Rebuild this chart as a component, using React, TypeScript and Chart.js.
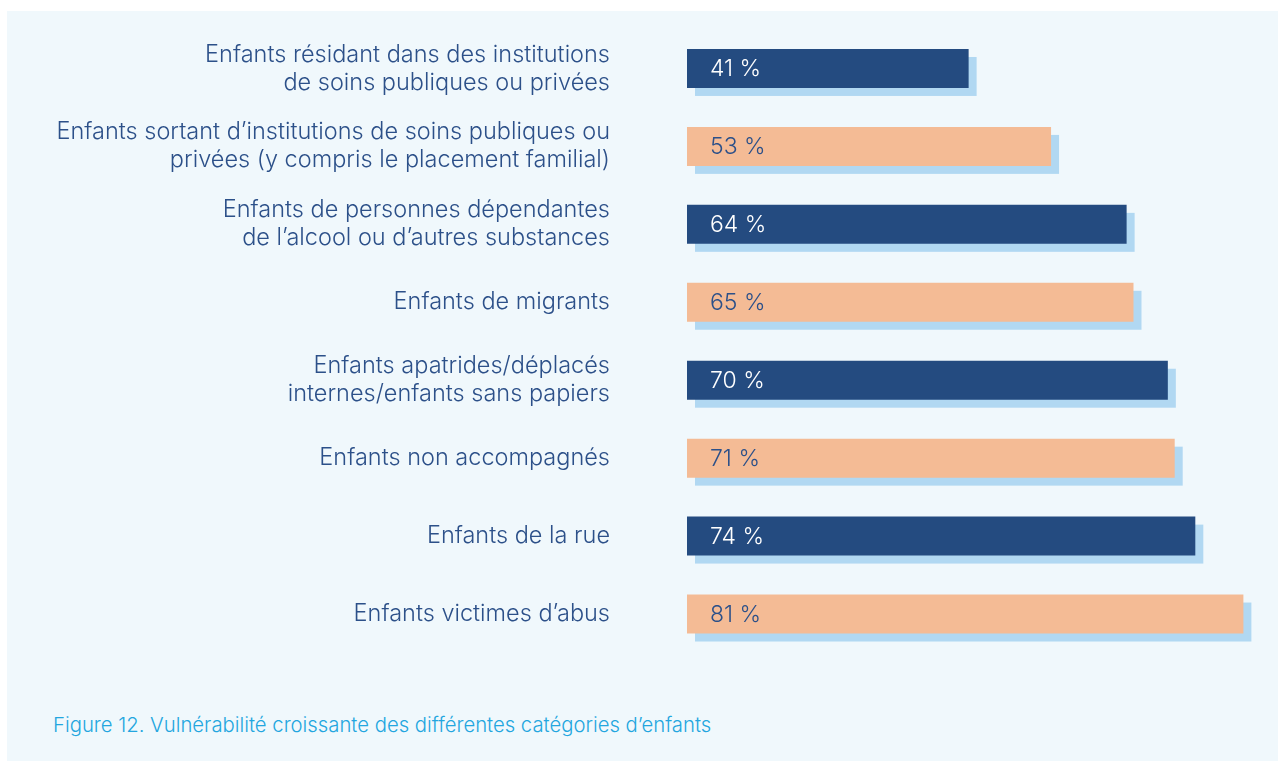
import React, { useEffect, useRef } from "react";
import { Chart, registerables } from "chart.js";

Chart.register(...registerables);

const categories: string[][] = [
  ["Enfants résidant dans des institutions", "de soins publiques ou privées"],
  ["Enfants sortant d’institutions de soins publiques ou", "privées (y compris le placement familial)"],
  ["Enfants de personnes dépendantes", "de l’alcool ou d’autres substances"],
  ["Enfants de migrants"],
  ["Enfants apatrides/déplacés", "internes/enfants sans papiers"],
  ["Enfants non accompagnés"],
  ["Enfants de la rue"],
  ["Enfants victimes d’abus"],
];
const values: number[] = [41, 53, 64, 65, 70, 71, 74, 81];
const caption = "Figure 12. Vulnérabilité croissante des différentes catégories d’enfants";

const DARK = "#244b80";
const ORANGE = "#f4bb95";
const SHADOW = "#b1d8f2";
const TEXT = "#2c5089";
const FONT = "Inter, Roboto, 'Liberation Sans', sans-serif";

const barColors = values.map((_, i) => (i % 2 === 0 ? DARK : ORANGE));
const labelColors = values.map((_, i) => (i % 2 === 0 ? "#ffffff" : TEXT));

const shadowPlugin = {
  id: "barShadow",
  beforeDatasetsDraw(chart: any) {
    const ctx = chart.ctx;
    const meta = chart.getDatasetMeta(0);
    ctx.save();
    ctx.fillStyle = SHADOW;
    meta.data.forEach((bar: any) => {
      const { x, y, base, height } = bar.getProps(["x", "y", "base", "height"], true);
      ctx.fillRect(base + 8, y - height / 2 + 8, x - base, height);
    });
    ctx.restore();
  },
};

const valueLabelPlugin = {
  id: "valueLabels",
  afterDatasetsDraw(chart: any) {
    const ctx = chart.ctx;
    const meta = chart.getDatasetMeta(0);
    ctx.save();
    ctx.font = `300 23px ${FONT}`;
    ctx.textAlign = "left";
    ctx.textBaseline = "middle";
    meta.data.forEach((bar: any, i: number) => {
      const { y, base } = bar.getProps(["y", "base"], true);
      ctx.fillStyle = labelColors[i];
      ctx.fillText(`${values[i]} %`, base + 23, y + 1);
    });
    ctx.restore();
  },
};

export default function App() {
  const ref = useRef<HTMLCanvasElement | null>(null);

  useEffect(() => {
    if (!ref.current) return;
    const chart = new Chart(ref.current, {
      type: "bar",
      data: {
        labels: categories,
        datasets: [
          {
            data: values,
            backgroundColor: barColors,
            borderWidth: 0,
            barPercentage: 0.5,
            categoryPercentage: 1,
          },
        ],
      },
      options: {
        indexAxis: "y",
        animation: false,
        responsive: false,
        maintainAspectRatio: false,
        layout: { padding: { top: 18.5, bottom: 18, left: 0, right: 14 } },
        plugins: {
          legend: { display: false },
          tooltip: { enabled: false },
        },
        scales: {
          x: {
            display: false,
            min: 0,
            max: 84,
          },
          y: {
            grid: { display: false, drawTicks: false },
            border: { display: false },
            afterFit: (s: any) => {
              s.width = 680;
              s.paddingTop = 0;
              s.paddingBottom = 0;
            },
            ticks: {
              padding: 77,
              color: TEXT,
              font: { family: FONT, size: 23.5, weight: "300", lineHeight: "28px" },
            },
          },
        },
      },
      plugins: [shadowPlugin, valueLabelPlugin],
    });
    return () => chart.destroy();
  }, []);

  return (
    <div
      style={{
        position: "absolute",
        left: 7,
        top: 11,
        width: 1271,
        height: 750,
        background: "#f0f8fc",
      }}
    >
      <canvas
        ref={ref}
        width={1271}
        height={660}
        style={{ position: "absolute", left: 0, top: 0, width: 1271, height: 660 }}
      />
      <div
        style={{
          position: "absolute",
          left: 46,
          top: 702,
          fontFamily: FONT,
          fontWeight: 300,
          fontSize: 20.3,
          color: "#23a6df",
          whiteSpace: "nowrap",
          lineHeight: "24px",
        }}
      >
        {caption}
      </div>
    </div>
  );
}
